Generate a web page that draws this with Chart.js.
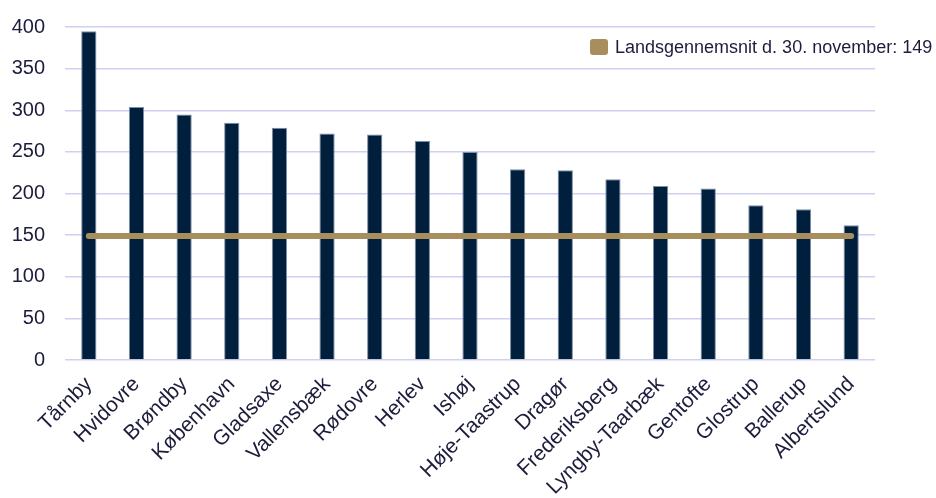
<!DOCTYPE html>
<html>
<head>
<meta charset="utf-8">
<script src="https://cdn.jsdelivr.net/npm/chart.js@4"></script>
<style>
  html, body { margin: 0; padding: 0; background: #fff; }
  #wrap { width: 936px; height: 498px; position: relative; }
</style>
</head>
<body>
<div id="wrap"><canvas id="kommuneChart"></canvas></div>
<script>
const kommuner = ['Tårnby', 'Hvidovre', 'Brøndby', 'København', 'Gladsaxe', 'Vallensbæk', 'Rødovre',
  'Herlev', 'Ishøj', 'Høje-Taastrup', 'Dragør', 'Frederiksberg', 'Lyngby-Taarbæk', 'Gentofte',
  'Glostrup', 'Ballerup', 'Albertslund'];
const vaerdier = [395, 304, 295, 285, 279, 272, 271, 263, 250, 229, 228, 217, 209, 206, 186, 181, 162];
const landsgennemsnit = 149;
const gennemsnitLabel = 'Landsgennemsnit d. 30. november: 149';
const yTicks = [0, 50, 100, 150, 200, 250, 300, 350, 400];

const textColor = '#1c1c3c';
const fontFam = '"Liberation Sans", Arial, sans-serif';

// legend drawn by hand, it sits top right and runs past the plot area
const ownLegend = {
  id: 'ownLegend',
  afterDraw(chart) {
    const { ctx } = chart;
    const ds = chart.data.datasets[1];
    ctx.save();
    ctx.fillStyle = ds.borderColor;
    ctx.beginPath();
    ctx.roundRect(590, 39, 18, 16, 3);
    ctx.fill();
    ctx.font = '18px ' + fontFam;
    ctx.fillStyle = textColor;
    ctx.textBaseline = 'middle';
    ctx.textAlign = 'left';
    ctx.fillText(ds.label, 615, 48);
    ctx.restore();
  }
};

new Chart(document.getElementById('kommuneChart'), {
  type: 'bar',
  data: {
    labels: kommuner,
    datasets: [
      {
        type: 'bar',
        label: 'Kommuner',
        data: vaerdier,
        backgroundColor: '#001f3d',
        borderColor: '#7d8ea8',
        borderWidth: 1,
        categoryPercentage: 1,
        barPercentage: 0.32,
        order: 2
      },
      {
        type: 'line',
        label: gennemsnitLabel,
        data: kommuner.map(() => landsgennemsnit),
        borderColor: '#a88e5c',
        borderWidth: 6,
        borderCapStyle: 'round',
        pointRadius: 0,
        order: 1
      }
    ]
  },
  options: {
    responsive: true,
    maintainAspectRatio: false,
    animation: false,
    layout: { padding: { top: 27, right: 61, left: 0, bottom: 0 } },
    plugins: {
      legend: { display: false },
      tooltip: { enabled: false }
    },
    scales: {
      x: {
        grid: { display: false },
        border: { display: false },
        ticks: {
          color: textColor,
          font: { size: 21, family: fontFam },
          minRotation: 45,
          maxRotation: 45,
          autoSkip: false,
          padding: 4
        },
        afterFit(scale) { scale.height = 138; }
      },
      y: {
        min: 0,
        max: 400,
        afterBuildTicks(scale) { scale.ticks = yTicks.map(v => ({ value: v })); },
        grid: { color: '#cfcfef', lineWidth: 1.5, drawTicks: false },
        border: { display: false },
        ticks: {
          color: textColor,
          font: { size: 20, family: fontFam },
          padding: 20
        },
        afterFit(scale) {
          scale.width = 65;
          // tick padding would otherwise push the plot top down
          scale.paddingTop = 0;
          scale.paddingBottom = 0;
        }
      }
    }
  },
  plugins: [ownLegend]
});
</script>
</body>
</html>
